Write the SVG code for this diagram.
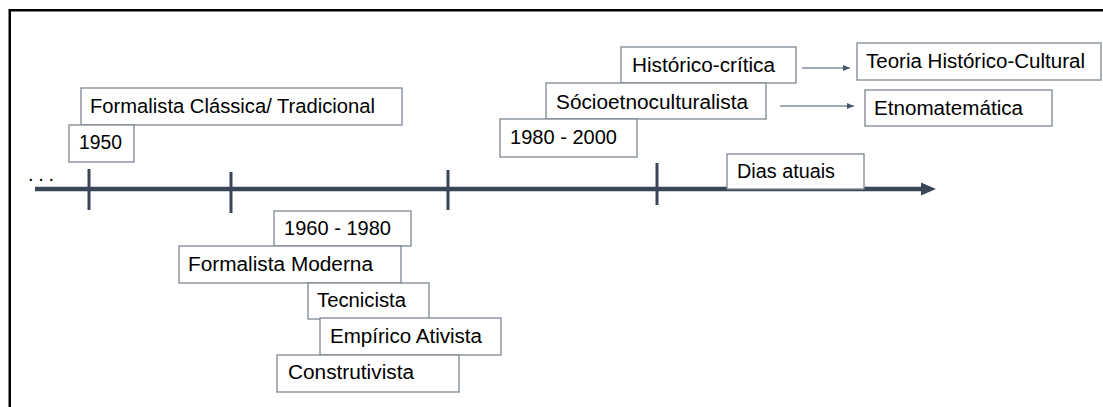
<svg xmlns="http://www.w3.org/2000/svg" width="1103" height="407" viewBox="0 0 1103 407">
<style>
.box{fill:#fff;stroke:#7d8693;stroke-width:1.3}
.t{font-family:"Liberation Sans",Arial,sans-serif;font-size:20px;fill:#000}
.tick{stroke:#3a4658;stroke-width:3}
.axis{stroke:#3a4658;stroke-width:4.5;fill:none}
.conn{stroke:#44546a;stroke-width:1.2;fill:none}
</style>
<defs>
<marker id="ah" markerWidth="8" markerHeight="8" refX="7" refY="4" orient="auto" markerUnits="userSpaceOnUse">
<path d="M0,1 L7,4 L0,7 Z" fill="#44546a"/>
</marker>
</defs>
<rect x="0" y="0" width="1103" height="407" fill="#fff"/>
<rect x="9.75" y="10.25" width="1200" height="500" fill="none" stroke="#000" stroke-width="2.5"/>
<text class="t" x="28" y="181" textLength="26" lengthAdjust="spacing">...</text>
<g id="connectors">
<line class="axis" x1="35" y1="189" x2="924" y2="189"/>
<path d="M921,182.5 L936,189 L921,195.5 Z" fill="#3a4658"/>
<line class="tick" x1="89" y1="169" x2="89" y2="210"/>
<line class="tick" x1="231" y1="172" x2="231" y2="213"/>
<line class="tick" x1="448" y1="170" x2="448" y2="210"/>
<line class="tick" x1="657" y1="163" x2="657" y2="205"/>
<line class="conn" x1="802" y1="68" x2="850" y2="68" marker-end="url(#ah)"/>
<line class="conn" x1="780" y1="106" x2="854" y2="106" marker-end="url(#ah)"/>
</g>
<g id="n-formalista-classica"><rect class="box" x="81" y="88" width="321" height="37"/><text class="t" x="90" y="113" textLength="285" lengthAdjust="spacingAndGlyphs">Formalista Clássica/ Tradicional</text></g>
<g id="n-1950"><rect class="box" x="69" y="125" width="65" height="37"/><text class="t" x="79" y="149" textLength="43" lengthAdjust="spacingAndGlyphs">1950</text></g>
<g id="n-historico-critica"><rect class="box" x="621" y="47" width="175" height="36"/><text class="t" x="632" y="72" textLength="143" lengthAdjust="spacingAndGlyphs">Histórico-crítica</text></g>
<g id="n-socio"><rect class="box" x="546" y="83" width="220" height="36"/><text class="t" x="556" y="109" textLength="192" lengthAdjust="spacingAndGlyphs">Sócioetnoculturalista</text></g>
<g id="n-1980-2000"><rect class="box" x="500" y="119" width="137" height="38"/><text class="t" x="510" y="144" textLength="107" lengthAdjust="spacingAndGlyphs">1980 - 2000</text></g>
<g id="n-teoria"><rect class="box" x="857" y="43" width="244" height="37"/><text class="t" x="866" y="68" textLength="219" lengthAdjust="spacingAndGlyphs">Teoria Histórico-Cultural</text></g>
<g id="n-etno"><rect class="box" x="865" y="90" width="187" height="36"/><text class="t" x="874" y="115" textLength="149" lengthAdjust="spacingAndGlyphs">Etnomatemática</text></g>
<g id="n-dias"><rect class="box" x="727" y="154" width="137" height="35"/><text class="t" x="737" y="178" textLength="98" lengthAdjust="spacingAndGlyphs">Dias atuais</text></g>
<g id="n-1960-1980"><rect class="box" x="274" y="211" width="137" height="35"/><text class="t" x="284" y="235" textLength="107" lengthAdjust="spacingAndGlyphs">1960 - 1980</text></g>
<g id="n-formalista-moderna"><rect class="box" x="179" y="246" width="222" height="37"/><text class="t" x="188" y="271" textLength="185" lengthAdjust="spacingAndGlyphs">Formalista Moderna</text></g>
<g id="n-tecnicista"><rect class="box" x="308" y="283" width="121" height="36"/><text class="t" x="317" y="307" textLength="89" lengthAdjust="spacingAndGlyphs">Tecnicista</text></g>
<g id="n-empirico"><rect class="box" x="320" y="318" width="181" height="37"/><text class="t" x="330" y="343" textLength="152" lengthAdjust="spacingAndGlyphs">Empírico Ativista</text></g>
<g id="n-construtivista"><rect class="box" x="277" y="355" width="182" height="37"/><text class="t" x="288" y="379" textLength="126" lengthAdjust="spacingAndGlyphs">Construtivista</text></g>
</svg>
